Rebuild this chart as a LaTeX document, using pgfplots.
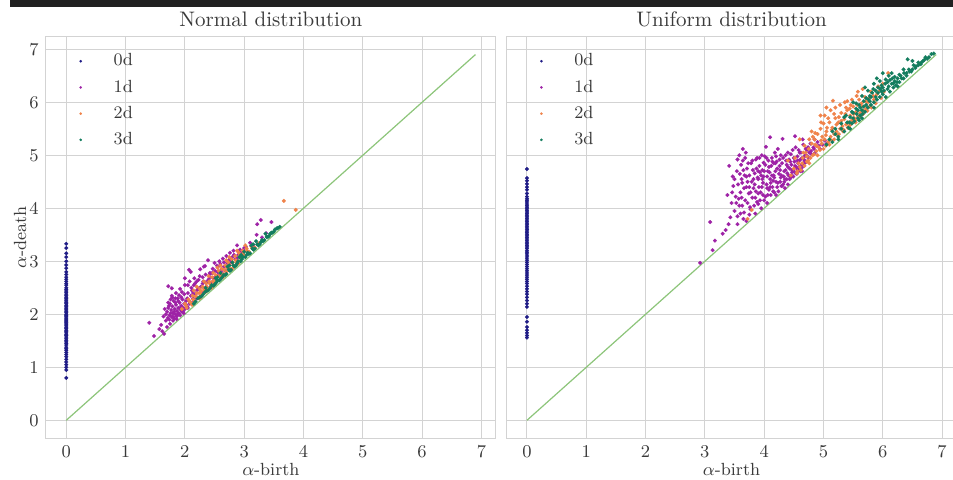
\documentclass[border=0pt]{standalone}
\usepackage{pgfplots}
\pgfplotsset{compat=1.18}
\definecolor{c0}{HTML}{1F1C86}
\definecolor{c1}{HTML}{9E22A6}
\definecolor{c2}{HTML}{F0834A}
\definecolor{c3}{HTML}{137D5E}
\definecolor{diag}{HTML}{8DC57A}
\definecolor{gridc}{HTML}{D3D3D3}
\definecolor{txt}{HTML}{3A3A3A}
\newcommand{\tf}{\fontsize{8.8}{10}\selectfont}
\pgfplotsset{
  pd/.style={
    scale only axis, width=225.05pt, height=201.15pt,
    xmin=-0.345, xmax=7.245, ymin=-0.345, ymax=7.245,
    xtick={0,1,2,3,4,5,6,7}, ytick={0,1,2,3,4,5,6,7},
    grid=major, grid style={gridc, line width=0.5pt},
    axis line style={gridc, line width=0.5pt},
    major tick length=0pt, tick style={draw=none},
    ticklabel style={font=\tf, text=txt},
    xlabel={$\alpha$-birth},
    xlabel style={at={(axis description cs:0.5,-0.078)}, anchor=center, font=\tf, text=txt},
    legend style={draw=none, fill=none, at={(axis description cs:0.0189,0.958)}, anchor=north west,
      inner sep=0pt, nodes={inner sep=0pt, font=\tf, text=txt}, row sep=5.5pt, cells={anchor=west}},
  },
  lg/.style={legend image code/.code={\path[draw=none,fill=none] (0pt,-1pt) rectangle (29.5pt,1pt);\path[##1,draw=none] plot[only marks] coordinates {(13pt,0pt)};},
    legend image post style={mark size=0.6pt}},
  s0/.style={only marks, mark=*, mark size=0.95pt, color=c0, mark options={line width=0.1pt,draw=c0,fill=c0}, lg},
  s1/.style={only marks, mark=*, mark size=0.95pt, color=c1, mark options={line width=0.1pt,draw=c1,fill=c1}, lg},
  s2/.style={only marks, mark=*, mark size=0.95pt, color=c2, mark options={line width=0.1pt,draw=c2,fill=c2}, lg},
  s3/.style={only marks, mark=*, mark size=0.95pt, color=c3, mark options={line width=0.1pt,draw=c3,fill=c3}, lg},
}
\begin{document}
\begin{tikzpicture}
\path[use as bounding box] (0,0) rectangle (476.5pt,240pt);
\fill[white] (0,0) rectangle (476.5pt,240pt);
\fill[black!87] (5pt,236.5pt) rectangle (476.5pt,240pt);
\node[font=\fontsize{10.5}{12}\selectfont, text=txt, inner sep=0pt] at (135.4pt,230.4pt) {Normal distribution};
\node[font=\fontsize{10.5}{12}\selectfont, text=txt, inner sep=0pt] at (365.8pt,230.4pt) {Uniform distribution};

\begin{axis}[pd, at={(22.9pt,20.7pt)}, anchor=south west,
  ylabel={$\alpha$-death},
  ylabel style={at={(axis description cs:-0.0573,0.5)}, anchor=center, font=\tf, text=txt}]
\addplot[diag, line width=0.6pt, forget plot] coordinates {(0,0) (6.9,6.9)};
\addplot[s0] coordinates {
(0,3.33)(0,3.25)(0,3.15)(0,3.08)(0,3.0)(0,2.93)(0,2.87)(0,2.8)(0,2.75)(0,2.7)(0,2.66)(0,2.62)(0,2.58)(0,2.55)(0,2.5)(0,2.47)(0,2.44)(0,2.41)(0,2.38)(0,2.35)(0,2.32)(0,2.3)(0,2.27)(0,2.25)(0,2.22)(0,2.2)(0,2.17)(0,2.15)(0,2.12)(0,2.1)(0,2.08)(0,2.05)(0,2.03)(0,2.0)(0,1.98)(0,1.96)(0,1.93)(0,1.91)(0,1.89)(0,1.87)(0,1.85)(0,1.82)(0,1.8)(0,1.78)(0,1.75)(0,1.73)(0,1.7)(0,1.68)(0,1.65)(0,1.62)(0,1.6)(0,1.57)(0,1.54)(0,1.51)(0,1.48)(0,1.45)(0,1.42)(0,1.38)(0,1.35)(0,1.32)(0,1.28)(0,1.24)(0,1.2)(0,1.15)(0,1.1)(0,1.05)(0,1.0)(0,0.95)(0,0.8)
};
\addlegendentry{0d}
\addplot[s1] coordinates {
(1.70,2.05)(1.72,2.12)(1.74,1.98)(1.75,2.20)(1.77,2.08)(1.78,1.95)(1.79,2.15)(1.80,2.02)(1.81,2.25)(1.82,1.92)(1.83,2.10)(1.84,2.00)(1.85,2.18)(1.86,1.96)(1.87,2.06)(1.88,2.30)(1.89,2.12)(1.90,2.02)(1.91,2.22)(1.92,1.98)(1.93,2.08)(1.94,2.16)(1.95,2.05)(1.96,2.28)(1.97,2.12)(1.98,2.02)(1.99,2.20)(2.00,2.10)(1.76,2.28)(1.73,2.16)(1.68,2.00)(1.66,2.10)(1.78,2.35)(1.85,2.40)(1.90,2.36)(1.95,2.42)(2.02,2.18)(2.04,2.30)(2.05,2.12)(2.07,2.25)(1.71,1.93)(1.80,1.88)(1.86,1.91)(1.64,1.96)
(1.40,1.84)(1.48,1.59)(1.57,1.72)(1.65,1.63)(1.72,2.53)(1.78,2.49)(1.60,1.80)(1.62,1.68)(1.70,1.76)(1.75,1.82)
(2.07,2.84)(2.10,2.80)(2.00,2.68)(2.12,2.45)(2.15,2.55)(2.18,2.38)(2.20,2.62)(2.22,2.48)(2.25,2.72)(2.28,2.42)(2.30,2.58)(2.32,2.90)(2.34,2.91)(2.36,2.52)(2.39,3.02)(2.40,2.66)(2.42,2.78)(2.43,2.77)(2.45,2.60)(2.47,2.86)(2.50,2.97)(2.52,2.70)(2.54,2.92)(2.55,2.80)(2.57,2.74)(2.60,2.95)(2.62,2.85)(2.64,3.05)(2.66,2.90)(2.68,2.82)(2.70,3.10)(2.72,2.96)(2.74,3.02)(2.76,3.16)(2.78,2.98)(2.80,3.08)(2.82,3.20)(2.85,3.04)(2.88,3.30)(2.90,3.12)(2.93,3.22)(2.96,3.10)(3.00,3.25)(3.03,3.27)(3.06,3.18)(3.10,3.35)(3.15,3.30)(3.21,3.50)(3.22,3.70)(3.28,3.78)(3.37,3.53)(3.46,3.74)(3.30,3.45)(2.58,3.00)(2.48,2.68)(2.30,2.70)(2.26,2.85)(2.16,2.68)(2.35,2.60)(2.62,2.72)(2.05,2.55)(2.10,2.35)(2.14,2.30)
(1.72,2.22)(1.76,2.02)(1.79,2.32)(1.82,2.05)(1.84,2.22)(1.87,1.98)(1.89,2.25)(1.92,2.12)(1.94,2.32)(1.97,2.05)(1.99,2.38)(2.02,2.25)(2.05,2.40)(2.08,2.20)(2.11,2.50)(2.14,2.40)(2.17,2.58)(2.20,2.45)(2.23,2.65)(2.27,2.52)(2.31,2.62)(2.35,2.75)(2.38,2.62)(2.42,2.70)(2.46,2.78)(2.51,2.82)(2.56,2.90)(2.61,2.80)(2.66,2.98)(2.71,2.88)(2.77,3.05)(2.83,3.12)(2.88,3.06)(2.95,3.18)(1.68,1.88)(1.74,1.90)(1.80,1.96)(1.88,2.00)(1.96,2.08)(2.04,2.15)(2.12,2.22)(2.20,2.30)(2.28,2.35)(2.36,2.46)(2.44,2.52)(1.92,2.48)(2.00,2.55)(2.08,2.62)(1.84,2.30)
};
\addlegendentry{1d}
\addplot[s2] coordinates {
(1.95,2.10)(2.00,2.20)(2.03,2.12)(2.06,2.28)(2.10,2.22)(2.13,2.35)(2.16,2.26)(2.20,2.40)(2.22,2.32)(2.25,2.48)(2.28,2.38)(2.30,2.52)(2.33,2.44)(2.36,2.58)(2.38,2.48)(2.41,2.62)(2.44,2.55)(2.46,2.70)(2.49,2.60)(2.52,2.74)(2.54,2.64)(2.57,2.82)(2.60,2.70)(2.62,2.86)(2.65,2.76)(2.68,2.92)(2.70,2.80)(2.73,2.98)(2.76,2.86)(2.79,3.04)(2.82,2.92)(2.85,3.10)(2.88,2.98)(2.91,3.16)(2.94,3.05)(2.97,3.20)(3.00,3.10)(3.04,3.24)(3.08,3.18)(3.12,3.28)(3.18,3.26)(3.25,3.34)(2.15,2.45)(2.40,2.72)(2.55,2.88)(2.70,3.02)(2.35,2.42)(2.50,2.56)(2.64,2.70)(2.80,2.86)(2.90,2.96)(2.12,2.18)(3.67,4.14)(3.87,3.97)(2.25,2.30)(2.45,2.50)
(2.02,2.16)(2.08,2.24)(2.14,2.28)(2.18,2.34)(2.24,2.40)(2.27,2.44)(2.32,2.48)(2.37,2.52)(2.42,2.58)(2.47,2.62)(2.51,2.66)(2.56,2.72)(2.61,2.76)(2.66,2.84)(2.71,2.88)(2.75,2.94)(2.81,2.98)(2.86,3.02)(2.92,3.10)(2.98,3.14)(3.05,3.20)(3.14,3.24)(2.20,2.52)(2.32,2.62)(2.48,2.78)(2.60,2.92)(2.75,3.08)(2.88,3.20)(3.02,3.30)
};
\addlegendentry{2d}
\addplot[s3] coordinates {
(2.15,2.20)(2.22,2.30)(2.28,2.34)(2.34,2.42)(2.40,2.46)(2.45,2.55)(2.50,2.56)(2.55,2.64)(2.60,2.66)(2.65,2.74)(2.70,2.76)(2.74,2.84)(2.78,2.84)(2.82,2.92)(2.86,2.92)(2.90,3.00)(2.94,3.00)(2.98,3.08)(3.02,3.08)(3.06,3.16)(3.10,3.15)(3.14,3.24)(3.18,3.24)(3.22,3.32)(3.26,3.32)(3.30,3.40)(3.34,3.40)(3.38,3.46)(3.42,3.48)(3.46,3.54)(3.50,3.56)(3.55,3.62)(3.60,3.65)(2.60,2.78)(2.80,2.98)(3.00,3.18)(3.20,3.38)(3.12,3.30)(2.92,3.08)(2.72,2.90)(2.52,2.68)(3.36,3.52)
(2.18,2.24)(2.25,2.32)(2.31,2.38)(2.37,2.44)(2.43,2.50)(2.48,2.54)(2.53,2.60)(2.58,2.64)(2.63,2.70)(2.68,2.74)(2.76,2.82)(2.84,2.90)(2.88,2.96)(2.96,3.04)(3.04,3.12)(3.08,3.14)(3.16,3.22)(3.24,3.30)(3.28,3.36)(3.32,3.38)(3.40,3.46)(3.44,3.52)(3.48,3.54)(3.52,3.60)(3.57,3.63)(2.35,2.50)(2.55,2.70)(2.75,2.92)(2.95,3.12)(3.15,3.32)
};
\addlegendentry{3d}
\end{axis}

\begin{axis}[pd, at={(253.25pt,20.7pt)}, anchor=south west, yticklabels={}]
\addplot[diag, line width=0.6pt, forget plot] coordinates {(0,0) (6.9,6.9)};
\addplot[s0] coordinates {
(0,4.74)(0,4.57)(0,4.52)(0,4.46)(0,4.40)(0,4.35)(0,4.28)(0,4.22)(0,4.18)(0,4.15)(0,4.12)(0,4.08)(0,4.05)(0,4.02)(0,3.99)(0,3.96)(0,3.93)(0,3.90)(0,3.87)(0,3.84)(0,3.81)(0,3.78)(0,3.75)(0,3.72)(0,3.69)(0,3.66)(0,3.63)(0,3.60)(0,3.57)(0,3.54)(0,3.51)(0,3.48)(0,3.45)(0,3.42)(0,3.39)(0,3.36)(0,3.33)(0,3.30)(0,3.27)(0,3.24)(0,3.20)(0,3.17)(0,3.14)(0,3.10)(0,3.06)(0,3.02)(0,2.98)(0,2.94)(0,2.90)(0,2.86)(0,2.82)(0,2.78)(0,2.74)(0,2.70)(0,2.66)(0,2.62)(0,2.58)(0,2.53)(0,2.48)(0,2.43)(0,2.38)(0,2.32)(0,2.26)(0,2.20)(0,2.14)(0,1.95)(0,1.86)(0,1.76)(0,1.70)(0,1.65)(0,1.60)(0,1.56)
};
\addlegendentry{0d}
\addplot[s1] coordinates {
(3.09,3.74)(3.17,3.39)(3.13,3.21)(3.35,3.59)(3.43,3.83)(3.41,4.80)(3.55,4.92)(3.64,5.12)(3.30,3.52)(3.45,4.10)(3.48,4.42)(3.38,4.25)(3.50,3.95)(3.47,4.60)(3.40,3.70)
(3.55,3.85)(3.58,4.05)(3.60,4.30)(3.62,4.55)(3.65,4.72)(3.57,4.18)(3.68,4.95)(3.70,4.40)(3.72,4.10)(3.75,4.62)(3.78,4.85)(3.66,3.92)(3.74,4.28)(3.63,4.48)(3.76,4.02)(3.79,4.50)(3.71,4.75)(3.69,5.05)(3.59,4.65)(3.80,4.20)(3.77,3.98)
(3.82,4.38)(3.84,4.66)(3.86,4.92)(3.88,4.12)(3.90,4.55)(3.92,4.80)(3.94,4.30)(3.96,5.00)(3.98,4.48)(4.00,4.70)(4.02,4.22)(4.03,5.16)(4.05,4.60)(4.07,4.90)(4.08,4.35)(4.10,5.34)(3.83,4.05)(3.87,4.75)(3.91,4.40)(3.95,4.62)(3.99,4.86)(4.04,4.45)(4.09,4.68)(3.85,4.20)(3.93,4.15)(4.01,4.98)(4.06,4.25)(3.89,4.58)(3.97,4.72)(4.10,4.55)
(4.12,4.80)(4.14,4.40)(4.16,4.62)(4.18,5.05)(4.20,4.50)(4.22,4.75)(4.24,4.32)(4.26,4.92)(4.28,4.58)(4.30,4.85)(4.31,5.31)(4.32,4.45)(4.34,4.70)(4.36,5.00)(4.38,4.55)(4.40,4.78)(4.13,4.95)(4.17,4.30)(4.21,4.88)(4.25,4.65)(4.29,4.42)(4.33,4.60)(4.37,4.90)(4.15,4.52)(4.23,5.12)(4.27,4.72)(4.35,4.38)(4.39,4.66)(4.19,4.70)(4.11,4.25)
(4.42,4.92)(4.44,4.60)(4.46,4.82)(4.48,5.10)(4.50,4.70)(4.52,5.36)(4.54,4.78)(4.56,4.98)(4.58,4.72)(4.60,5.05)(4.62,4.80)(4.64,4.95)(4.66,5.20)(4.68,4.85)(4.70,5.00)(4.43,4.55)(4.47,4.68)(4.51,4.88)(4.55,4.65)(4.59,4.90)(4.63,4.76)(4.67,4.92)(4.45,5.02)(4.53,5.15)(4.61,4.70)(4.69,4.88)(4.57,4.85)(4.65,5.30)
(4.72,5.10)(4.75,4.95)(4.78,5.22)(4.80,5.02)(4.83,5.15)(4.86,5.05)(4.90,5.25)(4.94,5.12)(4.98,5.20)(5.02,5.28)(4.76,5.05)(4.85,5.30)(4.92,5.18)(5.05,5.22)
(2.92,2.97)(3.70,3.76)(3.85,3.90)(3.95,4.00)(4.05,4.10)(4.20,4.25)(4.40,4.45)
(3.62,4.20)(3.66,4.38)(3.70,4.60)(3.73,4.85)(3.77,4.30)(3.81,4.72)(3.84,4.45)(3.88,4.95)(3.90,4.28)(3.93,4.68)(3.96,4.40)(3.99,4.60)(4.02,4.82)(4.05,4.38)(4.08,4.78)(4.11,4.48)(4.14,4.88)(4.17,4.58)(4.20,4.98)(4.23,4.48)(4.26,4.80)(4.29,4.62)(4.32,4.95)(4.35,4.55)(4.38,4.82)(4.41,4.62)(4.44,4.88)(4.47,4.72)(4.50,4.95)(4.53,4.66)(4.56,4.90)(4.59,4.78)(4.62,5.05)(4.65,4.82)(4.68,4.98)(4.71,4.88)(4.74,5.15)(3.64,4.90)(3.72,4.50)(3.80,4.90)(3.86,4.32)(3.92,4.95)(3.98,4.25)(4.04,4.95)(4.10,4.40)(4.16,4.85)(4.22,4.40)(4.28,5.00)(4.34,4.50)(4.40,5.05)(4.46,4.62)(4.52,4.80)(4.58,5.10)(4.64,4.70)(4.70,5.12)(3.60,3.90)(3.68,4.15)(3.75,4.40)(3.82,4.55)(3.90,4.70)(3.97,4.55)(4.06,4.70)(4.13,4.62)(4.19,4.85)(4.27,4.50)(4.36,4.72)(4.43,4.75)(4.49,4.60)(4.55,4.75)(4.61,4.92)(4.67,4.80)(4.73,4.98)(4.79,5.08)(4.84,5.12)(4.88,5.18)(3.52,4.22)(3.56,4.45)(3.54,4.70)(3.61,4.82)(3.67,4.62)(3.53,4.10)(3.46,4.30)(3.50,4.55)(3.58,5.00)(3.63,4.05)
(3.55,3.70)(3.65,3.80)(3.75,3.88)(3.90,4.08)(4.00,4.15)(4.15,4.32)(4.30,4.42)(4.45,4.58)(4.55,4.68)
};
\addlegendentry{1d}
\addplot[s2] coordinates {
(4.45,4.62)(4.50,4.75)(4.55,4.66)(4.58,4.85)(4.62,4.72)(4.65,4.95)(4.68,4.80)(4.70,5.05)(4.72,4.88)(4.75,5.12)(4.78,4.95)(4.80,5.22)(4.82,5.00)(4.85,5.30)(4.88,5.08)(4.90,5.40)(4.92,5.15)(4.95,5.50)(4.97,5.22)(5.00,5.60)(5.02,5.30)(5.05,5.45)(5.08,5.25)(5.10,5.62)(5.12,5.35)(5.15,5.52)(5.16,6.03)(5.18,5.40)(5.20,5.70)(5.22,5.45)(5.25,5.62)(5.28,5.50)(5.30,5.80)(5.32,5.55)(5.35,5.68)(5.36,6.00)(5.38,5.58)(5.40,5.85)(5.42,5.62)(5.45,5.75)(5.48,5.66)(5.50,5.92)(5.52,5.70)(5.55,5.82)(5.58,5.74)(5.60,6.05)(5.62,5.80)(5.65,5.92)(5.68,5.84)(5.70,6.10)(5.72,5.88)(5.75,6.00)(5.78,5.92)(5.80,6.20)(5.85,6.05)(5.90,6.15)(5.95,6.22)(6.09,6.55)(6.00,6.35)(4.60,4.78)(4.74,4.90)(4.84,5.02)(4.94,5.10)(5.04,5.18)(5.14,5.28)(5.24,5.38)(5.34,5.48)(5.44,5.56)(5.54,5.66)(5.64,5.76)(4.88,5.18)(4.98,5.35)(5.06,5.52)(5.26,5.72)(5.46,5.95)(5.56,6.12)(5.66,6.25)(4.80,5.45)(5.02,5.75)(5.12,5.85)(4.52,4.95)(4.68,5.18)(5.20,5.90)(5.40,6.02)(3.72,3.80)(4.60,5.30)(4.40,4.90)(3.79,3.97)
(4.56,4.70)(4.64,4.85)(4.72,4.98)(4.76,4.85)(4.86,5.20)(4.90,5.00)(4.96,5.28)(5.00,5.12)(5.04,5.38)(5.10,5.20)(5.14,5.48)(5.18,5.30)(5.22,5.58)(5.26,5.40)(5.30,5.65)(5.33,5.45)(5.37,5.78)(5.41,5.52)(5.44,5.88)(5.47,5.60)(5.51,5.78)(5.54,5.62)(5.57,5.95)(5.61,5.72)(5.64,5.98)(5.67,5.78)(5.71,6.02)(5.74,5.84)(5.77,6.08)(5.81,5.90)(5.84,6.12)(5.88,5.98)(5.92,6.30)(5.97,6.08)(6.02,6.20)(4.66,5.05)(4.76,5.30)(4.86,5.42)(4.96,5.62)(5.08,5.70)(5.18,5.78)(5.28,5.95)(5.38,5.90)(5.48,6.05)(5.58,6.20)(4.95,5.75)(5.05,5.90)(4.82,5.35)
};
\addlegendentry{2d}
\addplot[s3] coordinates {
(5.05,5.20)(5.10,5.30)(5.15,5.25)(5.20,5.40)(5.25,5.35)(5.30,5.50)(5.35,5.45)(5.40,5.62)(5.42,5.52)(5.45,5.72)(5.48,5.60)(5.50,5.80)(5.52,5.64)(5.55,5.88)(5.58,5.70)(5.60,5.95)(5.62,5.75)(5.65,5.85)(5.68,6.02)(5.70,5.82)(5.72,6.08)(5.75,5.90)(5.78,6.12)(5.80,5.95)(5.82,6.18)(5.85,6.00)(5.88,6.22)(5.90,6.05)(5.92,6.28)(5.95,6.10)(5.98,6.32)(6.00,6.15)(6.02,6.22)(6.05,6.43)(6.08,6.25)(6.10,6.30)(6.12,6.20)(6.15,6.35)(6.18,6.28)(6.20,6.40)(6.22,6.32)(6.25,6.45)(6.28,6.38)(6.30,6.50)(6.35,6.45)(6.40,6.55)(6.42,6.81)(6.45,6.58)(6.50,6.62)(6.55,6.65)(6.60,6.70)(6.65,6.75)(6.70,6.80)(6.75,6.82)(6.82,6.91)(6.86,6.92)(5.35,5.72)(5.55,5.98)(5.75,6.22)(5.95,6.40)(5.65,6.12)(5.85,6.35)(5.45,5.50)(5.65,5.70)(5.85,5.90)(6.05,6.10)(6.25,6.30)(5.25,5.30)(5.60,5.66)(6.00,6.55)(6.15,6.55)(6.35,6.62)(5.70,6.28)(5.50,6.00)
(5.30,5.60)(5.38,5.75)(5.44,5.62)(5.50,5.70)(5.56,5.78)(5.62,5.90)(5.66,5.78)(5.72,5.95)(5.76,6.05)(5.80,6.10)(5.84,6.25)(5.88,6.10)(5.92,6.18)(5.96,6.25)(6.00,6.28)(6.04,6.35)(6.08,6.38)(6.12,6.42)(6.16,6.45)(6.20,6.48)(6.24,6.38)(6.28,6.52)(6.32,6.45)(6.36,6.55)(6.40,6.50)(6.44,6.62)(6.48,6.58)(6.52,6.70)(6.56,6.68)(6.60,6.75)(6.64,6.72)(6.68,6.78)(6.72,6.85)(6.78,6.85)(5.58,5.85)(5.78,6.02)(5.98,6.20)(6.18,6.36)(5.48,5.82)(5.68,5.92)(5.90,6.45)(6.10,6.50)(5.20,5.50)(5.15,5.45)(6.50,6.78)
};
\addlegendentry{3d}
\end{axis}
\end{tikzpicture}
\end{document}
